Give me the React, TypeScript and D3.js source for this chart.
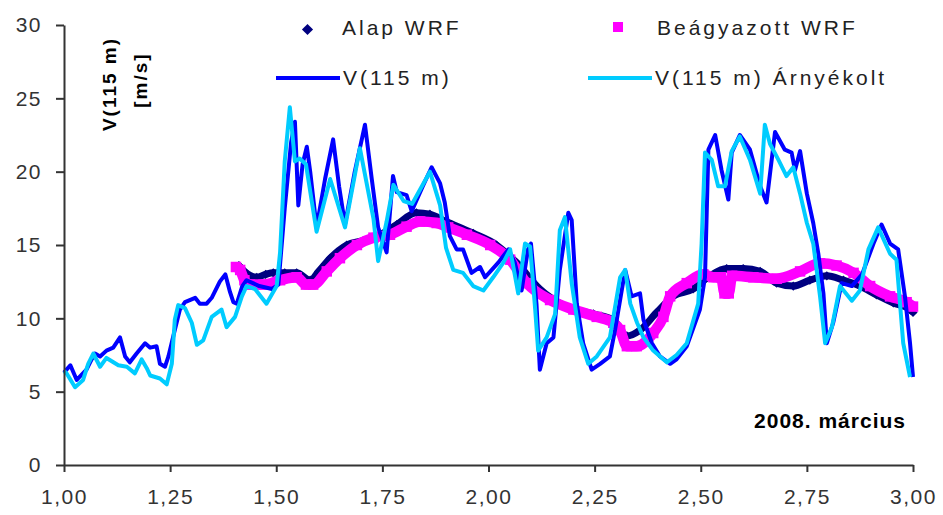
import React, { useRef, useEffect } from "react";
import * as d3 from "d3";

const W = 943;
const H = 515;

const xTicks = [1, 1.25, 1.5, 1.75, 2, 2.25, 2.5, 2.75, 3];
const yTicks = [0, 5, 10, 15, 20, 25, 30];

// measured wind speed, V(115 m)
const v115: [number, number][] = [
  [1.0, 6.3], [1.006, 6.5], [1.015, 6.8], [1.03, 5.8], [1.053, 6.5], [1.065, 7.2], [1.073, 7.6],
  [1.085, 7.4], [1.1, 7.8], [1.116, 8.0], [1.132, 8.7], [1.144, 7.4], [1.155, 7.0], [1.171, 7.6],
  [1.191, 8.3], [1.203, 8.0], [1.218, 8.1], [1.226, 6.9], [1.238, 6.7], [1.246, 7.4], [1.261, 9.2],
  [1.273, 10.6], [1.285, 11.1], [1.309, 11.4], [1.32, 11.0], [1.336, 11.0], [1.348, 11.4],
  [1.367, 12.5], [1.38, 13.0], [1.391, 11.8], [1.399, 11.1], [1.407, 11.0], [1.42, 12.2],
  [1.43, 12.6], [1.46, 12.2], [1.49, 12.0], [1.505, 12.3], [1.52, 17.5], [1.535, 22.0],
  [1.544, 23.4], [1.552, 17.7], [1.562, 20.5], [1.572, 21.7], [1.58, 20.0], [1.595, 16.2],
  [1.615, 19.5], [1.634, 22.2], [1.648, 19.0], [1.662, 16.4], [1.685, 20.0], [1.709, 23.2],
  [1.725, 19.5], [1.74, 16.2], [1.76, 14.5], [1.775, 19.7], [1.784, 18.6], [1.807, 18.4],
  [1.819, 17.3], [1.845, 19.0], [1.866, 20.3], [1.886, 19.2], [1.897, 17.9], [1.909, 15.6],
  [1.925, 14.7], [1.94, 14.7], [1.96, 13.1], [1.98, 13.5], [1.992, 12.8], [2.023, 13.8],
  [2.047, 14.7], [2.062, 13.8], [2.078, 11.9], [2.093, 14.7], [2.1, 15.1], [2.113, 11.0],
  [2.121, 6.5], [2.137, 8.3], [2.153, 8.7], [2.168, 13.3], [2.188, 17.2], [2.196, 16.7],
  [2.208, 11.0], [2.223, 8.3], [2.243, 6.5], [2.263, 6.9], [2.286, 7.4], [2.298, 9.2],
  [2.322, 13.3], [2.337, 11.5], [2.357, 11.7], [2.365, 9.9], [2.385, 8.3], [2.404, 7.4],
  [2.428, 6.9], [2.443, 7.2], [2.467, 8.1], [2.498, 10.6], [2.51, 12.8], [2.518, 21.5],
  [2.534, 22.5], [2.549, 20.1], [2.565, 18.1], [2.573, 21.3], [2.592, 22.5], [2.616, 21.5],
  [2.64, 19.0], [2.655, 17.9], [2.675, 22.7], [2.698, 21.5], [2.714, 21.3], [2.722, 20.1],
  [2.734, 21.4], [2.75, 18.5], [2.765, 16.5], [2.777, 14.4], [2.789, 11.7], [2.797, 8.3],
  [2.812, 9.7], [2.832, 12.4], [2.856, 12.2], [2.88, 13.0], [2.907, 15.1], [2.926, 16.4],
  [2.946, 15.1], [2.965, 14.7], [2.981, 11.5], [2.993, 8.3], [3.0, 6.0],
];

// shaded measurement, V(115 m) Árnyékolt
const v115Arnyekolt: [number, number][] = [
  [1.0, 6.4], [1.006, 6.25], [1.026, 5.3], [1.045, 5.8], [1.057, 6.9], [1.069, 7.6], [1.085, 6.7],
  [1.1, 7.3], [1.128, 6.8], [1.148, 6.7], [1.167, 6.25], [1.183, 7.2], [1.195, 6.6], [1.203, 6.1],
  [1.226, 5.9], [1.242, 5.5], [1.254, 6.9], [1.261, 9.9], [1.269, 10.9], [1.285, 10.7],
  [1.301, 9.7], [1.313, 8.2], [1.328, 8.5], [1.348, 10.1], [1.371, 10.6], [1.383, 9.4],
  [1.403, 10.1], [1.419, 11.5], [1.43, 12.2], [1.45, 12.0], [1.477, 11.0], [1.501, 12.2],
  [1.509, 14.5], [1.52, 20.7], [1.532, 24.4], [1.544, 20.7], [1.555, 20.9], [1.57, 20.5],
  [1.595, 15.9], [1.627, 19.5], [1.662, 16.2], [1.697, 21.6], [1.729, 16.8], [1.74, 13.9],
  [1.76, 16.6], [1.776, 19.1], [1.8, 18.0], [1.82, 17.8], [1.862, 20.0], [1.886, 17.7],
  [1.9, 14.8], [1.917, 13.3], [1.94, 13.1], [1.964, 12.2], [1.988, 11.9], [2.011, 12.8],
  [2.035, 13.8], [2.051, 14.7], [2.07, 11.7], [2.086, 15.1], [2.098, 14.9], [2.11, 10.6],
  [2.117, 7.8], [2.137, 8.7], [2.157, 10.3], [2.168, 16.0], [2.18, 16.9], [2.196, 12.4],
  [2.215, 8.7], [2.235, 6.9], [2.255, 7.4], [2.286, 8.7], [2.31, 12.8], [2.322, 13.3],
  [2.334, 11.0], [2.35, 9.7], [2.365, 8.7], [2.388, 7.8], [2.42, 7.0], [2.443, 7.5],
  [2.467, 8.3], [2.494, 11.0], [2.502, 15.1], [2.51, 21.3], [2.526, 20.8], [2.541, 19.0],
  [2.557, 19.0], [2.573, 21.4], [2.592, 22.4], [2.616, 20.8], [2.64, 18.5], [2.651, 23.2],
  [2.663, 21.9], [2.683, 20.8], [2.702, 19.7], [2.718, 20.3], [2.734, 18.5], [2.75, 16.5],
  [2.765, 15.1], [2.781, 11.5], [2.793, 8.3], [2.809, 9.4], [2.828, 12.2], [2.856, 11.2],
  [2.875, 11.9], [2.895, 14.7], [2.918, 16.2], [2.946, 14.4], [2.961, 14.0], [2.977, 8.3],
  [2.993, 6.0],
];

// Alap WRF
const alapWrf: [number, number][] = [
  [1.412, 13.6], [1.425, 13.2], [1.454, 12.8], [1.475, 13.0], [1.493, 13.1], [1.52, 13.1],
  [1.548, 13.1], [1.58, 12.6], [1.6, 13.2], [1.627, 14.1], [1.666, 15.0], [1.705, 15.3],
  [1.744, 15.7], [1.784, 16.4], [1.83, 17.2], [1.862, 17.1], [1.9, 16.6], [1.964, 15.8],
  [2.019, 15.0], [2.066, 13.8], [2.121, 12.0], [2.184, 10.8], [2.247, 10.3], [2.294, 9.9],
  [2.326, 8.8], [2.357, 9.2], [2.396, 10.4], [2.435, 11.5], [2.482, 12.0], [2.522, 12.9],
  [2.561, 13.4], [2.6, 13.4], [2.64, 13.2], [2.679, 12.4], [2.718, 12.2], [2.757, 12.6],
  [2.797, 12.9], [2.836, 12.6], [2.875, 12.2], [2.914, 11.6], [2.954, 11.05], [2.993, 10.6],
  [3.0, 10.4],
];

// Beágyazott WRF
const beagyazottWrf: [number, number][] = [
  [1.405, 13.5], [1.415, 13.3], [1.425, 12.6], [1.438, 12.3], [1.47, 12.3], [1.509, 12.6],
  [1.548, 12.8], [1.57, 12.3], [1.587, 12.3], [1.619, 13.2], [1.65, 14.1], [1.69, 15.0],
  [1.729, 15.5], [1.768, 15.7], [1.807, 16.25], [1.839, 16.6], [1.878, 16.5], [1.905, 16.2],
  [1.949, 15.7], [2.004, 15.0], [2.051, 14.0], [2.09, 12.4], [2.145, 11.25], [2.2, 10.6],
  [2.255, 10.1], [2.294, 9.7], [2.31, 9.2], [2.326, 8.1], [2.349, 8.1], [2.388, 9.0],
  [2.412, 10.1], [2.428, 11.5], [2.467, 12.4], [2.506, 13.0], [2.53, 12.8], [2.548, 12.8],
  [2.556, 11.7], [2.566, 11.7], [2.574, 12.9], [2.624, 12.8], [2.679, 12.7], [2.734, 13.2],
  [2.781, 13.75], [2.82, 13.6], [2.86, 13.1], [2.899, 12.2], [2.946, 11.5], [2.985, 11.1],
  [3.0, 10.8],
];

const FONT = "'Liberation Sans', Arial, sans-serif";

const App = () => {
  const ref = useRef<SVGSVGElement>(null);

  useEffect(() => {
    const svg = d3.select(ref.current);
    svg.selectAll("*").remove();

    const x = d3.scaleLinear().domain([1, 3]).range([64, 913]);
    const y = d3.scaleLinear().domain([0, 30]).range([465, 25]);

    const smooth = d3
      .line<[number, number]>()
      .x((d) => x(d[0]))
      .y((d) => y(d[1]))
      .curve(d3.curveMonotoneX);
    const straight = d3
      .line<[number, number]>()
      .x((d) => x(d[0]))
      .y((d) => y(d[1]));

    const diamond = d3.symbol().type(d3.symbolSquare).size(42);
    const square = d3.symbol().type(d3.symbolSquare).size(110);

    // Alap WRF (navy diamonds)
    svg
      .append("path")
      .attr("d", smooth(alapWrf))
      .attr("fill", "none")
      .attr("stroke", "#000080")
      .attr("stroke-width", 7);
    svg
      .append("g")
      .selectAll("path")
      .data(alapWrf)
      .join("path")
      .attr("d", diamond)
      .attr("fill", "#000080")
      .attr("transform", (d) => `translate(${x(d[0])},${y(d[1])}) rotate(45)`);

    // Beágyazott WRF (magenta squares)
    svg
      .append("path")
      .attr("d", smooth(beagyazottWrf))
      .attr("fill", "none")
      .attr("stroke", "#ff00ff")
      .attr("stroke-width", 10.5);
    svg
      .append("g")
      .selectAll("path")
      .data(beagyazottWrf)
      .join("path")
      .attr("d", square)
      .attr("fill", "#ff00ff")
      .attr("transform", (d) => `translate(${x(d[0])},${y(d[1])})`);

    // measured lines
    svg
      .append("path")
      .attr("d", straight(v115))
      .attr("fill", "none")
      .attr("stroke", "#0000ff")
      .attr("stroke-width", 4)
      .attr("stroke-linejoin", "round");
    svg
      .append("path")
      .attr("d", straight(v115Arnyekolt))
      .attr("fill", "none")
      .attr("stroke", "#00ccff")
      .attr("stroke-width", 4)
      .attr("stroke-linejoin", "round");

    // axes
    const yAxis = svg
      .append("g")
      .attr("transform", "translate(64,0)")
      .call(
        d3.axisLeft(y).tickValues(yTicks).tickSize(8).tickSizeOuter(0).tickPadding(14).tickFormat(d3.format("d"))
      );
    const xAxis = svg
      .append("g")
      .attr("transform", "translate(0,465)")
      .call(
        d3
          .axisBottom(x)
          .tickValues(xTicks)
          .tickSize(7)
          .tickSizeOuter(0)
          .tickPadding(17)
          .tickFormat((d) => d3.format(".2f")(d as number).replace(".", ","))
      );
    [yAxis, xAxis].forEach((g) => {
      g.select(".domain").attr("stroke", "#333").attr("stroke-width", 2);
      g.selectAll(".tick line").attr("stroke", "#333").attr("stroke-width", 2);
      g.selectAll(".tick text")
        .attr("fill", "#333")
        .style("font-family", FONT)
        .style("font-size", "21px")
        .style("letter-spacing", "1.5px");
    });

    // y axis title
    const yt = svg
      .append("g")
      .style("font-family", FONT)
      .style("font-weight", "bold")
      .style("font-size", "19px")
      .style("letter-spacing", "2px")
      .attr("fill", "#000");
    yt.append("text")
      .attr("transform", "translate(109,84) rotate(-90)")
      .attr("text-anchor", "middle")
      .attr("dy", "0.35em")
      .text("V(115 m)");
    yt.append("text")
      .attr("transform", "translate(140,80) rotate(-90)")
      .attr("text-anchor", "middle")
      .attr("dy", "0.35em")
      .text("[m/s]");

    // period label
    svg
      .append("text")
      .attr("x", 906)
      .attr("y", 428)
      .attr("text-anchor", "end")
      .style("font-family", FONT)
      .style("font-weight", "bold")
      .style("font-size", "21px")
      .style("letter-spacing", "1px")
      .text("2008. március");

    // legend
    const lg = svg
      .append("g")
      .style("font-family", FONT)
      .style("font-size", "21px")
      .style("letter-spacing", "3px")
      .attr("fill", "#222");
    lg.append("path")
      .attr("d", d3.symbol().type(d3.symbolSquare).size(62)())
      .attr("fill", "#000080")
      .attr("transform", "translate(307.5,29.5) rotate(45)");
    lg.append("text").attr("x", 342).attr("y", 35).text("Alap WRF");
    lg.append("rect")
      .attr("x", 613)
      .attr("y", 22)
      .attr("width", 10)
      .attr("height", 10)
      .attr("fill", "#ff00ff");
    lg.append("text").attr("x", 657).attr("y", 35).text("Beágyazott WRF");
    lg.append("line")
      .attr("x1", 276)
      .attr("x2", 340)
      .attr("y1", 78)
      .attr("y2", 78)
      .attr("stroke", "#0000ff")
      .attr("stroke-width", 4);
    lg.append("text").attr("x", 343).attr("y", 85).text("V(115 m)");
    lg.append("line")
      .attr("x1", 588)
      .attr("x2", 652)
      .attr("y1", 78)
      .attr("y2", 78)
      .attr("stroke", "#00ccff")
      .attr("stroke-width", 4);
    lg.append("text").attr("x", 655).attr("y", 85).text("V(115 m) Árnyékolt");
  }, []);

  return (
    <div style={{ position: "absolute", left: 0, top: 0 }}>
      <svg ref={ref} width={W} height={H} style={{ display: "block", background: "#fff" }}></svg>
    </div>
  );
};

export default App;
